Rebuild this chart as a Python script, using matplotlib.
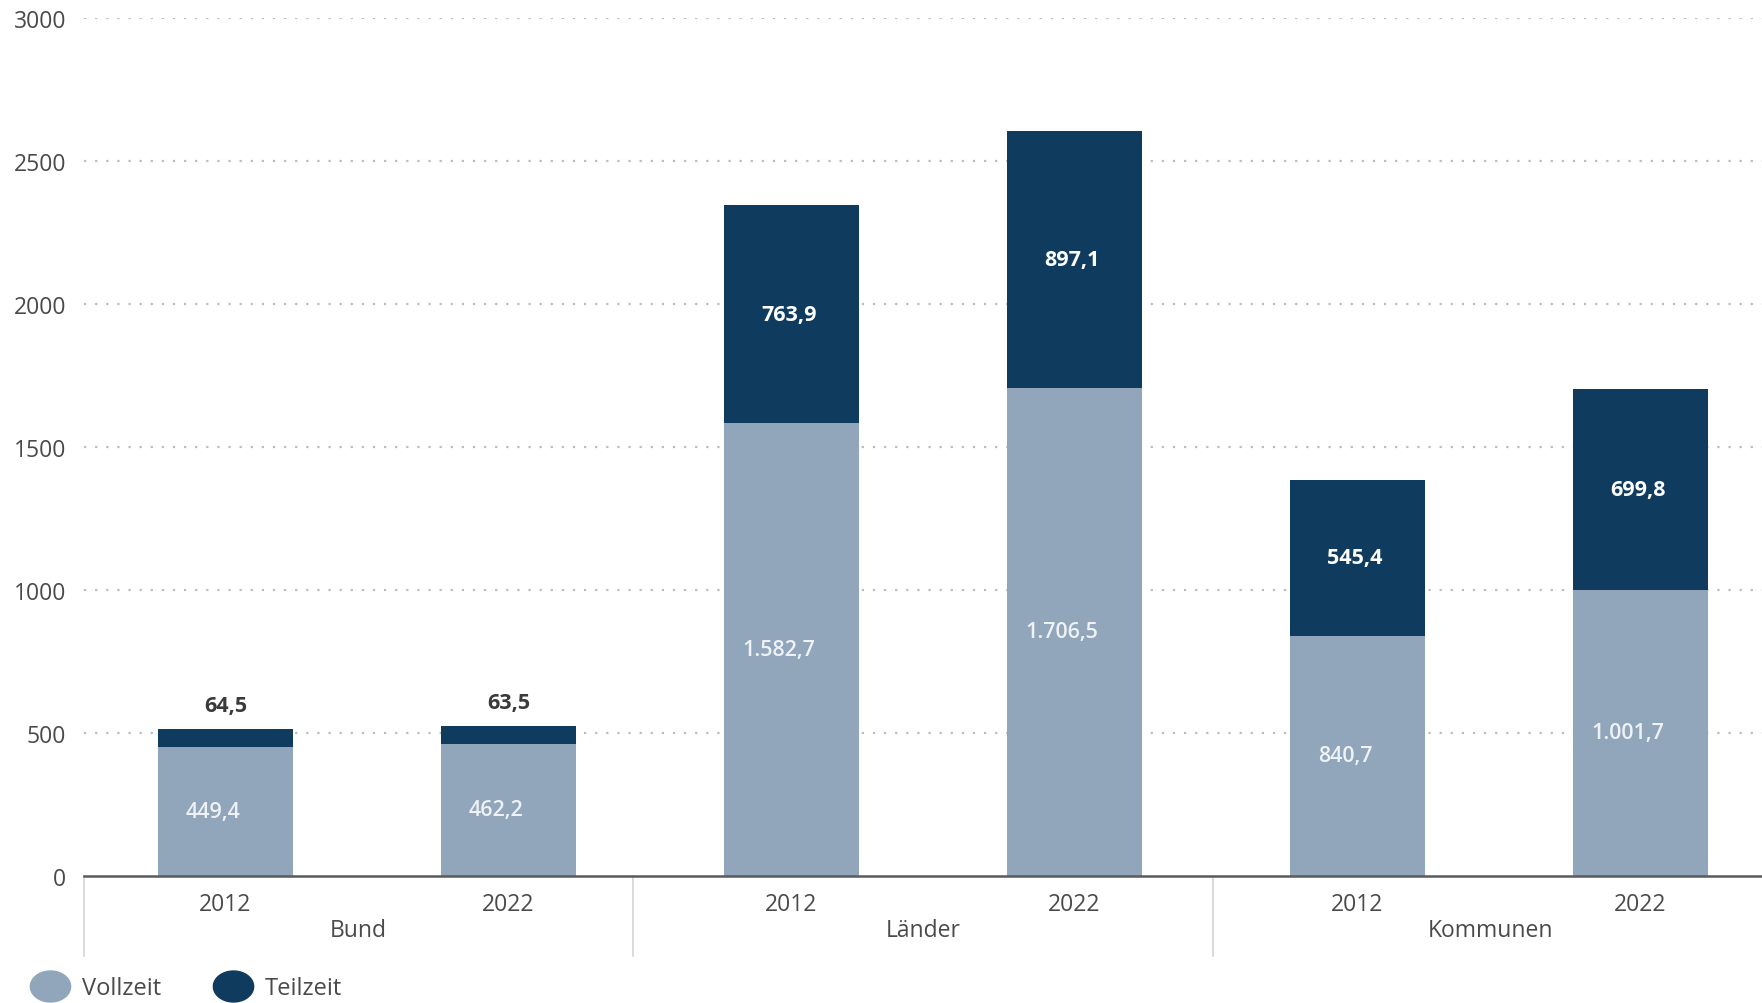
import matplotlib
matplotlib.use("Agg")
import matplotlib.pyplot as plt
import matplotlib.transforms as mtransforms
from matplotlib.path import Path
from matplotlib.lines import Line2D
import numpy as np

# ---------------- data ----------------
groups = ["Bund", "Länder", "Kommunen"]
years = ["2012", "2022"]
vollzeit = [449.4, 462.2, 1582.7, 1706.5, 840.7, 1001.7]
teilzeit = [64.5, 63.5, 763.9, 897.1, 545.4, 699.8]
series_names = ["Vollzeit", "Teilzeit"]
y_ticks = [0, 500, 1000, 1500, 2000, 2500, 3000]

# ---------------- style ----------------
C_VOLL = "#91a6bb"
C_TEIL = "#0f3b5e"
C_TEXT = "#4a4a4a"
FONT = ["Open Sans", "DejaVu Sans"]
plt.rcParams["font.family"] = FONT


def de_fmt(v):
    s = f"{v:,.1f}"
    return s.replace(",", "X").replace(".", ",").replace("X", ".")


W, H = 1762, 1004
fig = plt.figure(figsize=(W / 100, H / 100), dpi=100)
fig.patch.set_facecolor("white")

# axes geometry in pixels
left_px, base_px, top_px, unit_px = 84, 877, 19, 283
ax = fig.add_axes([left_px / W, (H - base_px) / H, 6 * unit_px / W, (base_px - top_px) / H])

n = len(vollzeit)
x = np.arange(n)
bw = 0.48

ax.bar(x, vollzeit, width=bw, color=C_VOLL, zorder=2, label=series_names[0])
ax.bar(x, teilzeit, width=bw, bottom=vollzeit, color=C_TEIL, zorder=2, label=series_names[1])

ax.set_xlim(-0.5, 5.5)
ax.set_ylim(0, 3000)

# grid
ax.set_yticks(y_ticks)
ax.set_yticklabels([str(t) for t in y_ticks])
ax.tick_params(axis="y", length=0, pad=13, labelsize=16.5, labelcolor=C_TEXT)
for t in y_ticks[1:]:
    ax.axhline(t, color="#bcbcbc", lw=1.6, ls=(0, (1, 4)), zorder=1)

for s in ["left", "right", "top"]:
    ax.spines[s].set_visible(False)
ax.spines["bottom"].set_color("#5a5a5a")
ax.spines["bottom"].set_linewidth(1.8)
ax.spines["bottom"].set_zorder(3)

# x tick labels (years) and group labels, drawn manually
ax.set_xticks([])
trans = mtransforms.blended_transform_factory(ax.transData, ax.transAxes)
year_y = -34 / (base_px - top_px)
group_y = -60 / (base_px - top_px)
sep_bottom = -80 / (base_px - top_px)
for i in range(n):
    ax.text(x[i], year_y, years[i % 2], transform=trans, ha="center", va="baseline",
            fontsize=16.5, color=C_TEXT)

bounds = [-0.5, 1.44, 3.49, 5.45]
for g, name in enumerate(groups):
    cx = (bounds[g] + bounds[g + 1]) / 2
    ax.text(cx, group_y, name, transform=trans, ha="center", va="baseline",
            fontsize=16.5, color=C_TEXT)
for b in bounds[:3]:
    ax.plot([b, b], [0, sep_bottom], transform=trans, color="#d4d4d4", lw=1.2,
            clip_on=False, zorder=1)

# value labels
for i in range(n):
    v, t = vollzeit[i], teilzeit[i]
    ax.annotate(de_fmt(v), xy=(x[i], v / 2), xytext=(-9, 0), textcoords="offset points",
                ha="center", va="center", fontsize=15.5, fontweight="semibold",
                color="#eef2f6", zorder=4)
    if t < 200:
        ax.annotate(de_fmt(t), xy=(x[i], v + t), xytext=(0, 13), textcoords="offset points",
                    ha="center", va="baseline", fontsize=15.5, fontweight="bold",
                    color="#3a3a3a", zorder=4)
    else:
        ax.annotate(de_fmt(t), xy=(x[i], v + t / 2), xytext=(-2, 0), textcoords="offset points",
                    ha="center", va="center", fontsize=15.5, fontweight="bold",
                    color="white", zorder=4)

# legend with ellipse markers
theta = np.linspace(0, 2 * np.pi, 60)
ell = Path(np.column_stack([1.3 * np.cos(theta), np.sin(theta)]), closed=True)
handles = [
    Line2D([], [], marker=ell, ls="none", markersize=29, markerfacecolor=C_VOLL,
           markeredgecolor=C_VOLL),
    Line2D([], [], marker=ell, ls="none", markersize=29, markerfacecolor=C_TEIL,
           markeredgecolor=C_TEIL),
]
leg = fig.legend(handles, series_names, loc="center left", ncol=2,
                 bbox_to_anchor=(36 / W, (H - 989) / H), bbox_transform=fig.transFigure,
                 frameon=False, borderpad=0, borderaxespad=0, handlelength=1.2,
                 handletextpad=0.75, columnspacing=2.45, prop={"family": FONT, "size": 17})
for txt in leg.get_texts():
    txt.set_color(C_TEXT)

fig.savefig("out.png", dpi=100, facecolor="white")
